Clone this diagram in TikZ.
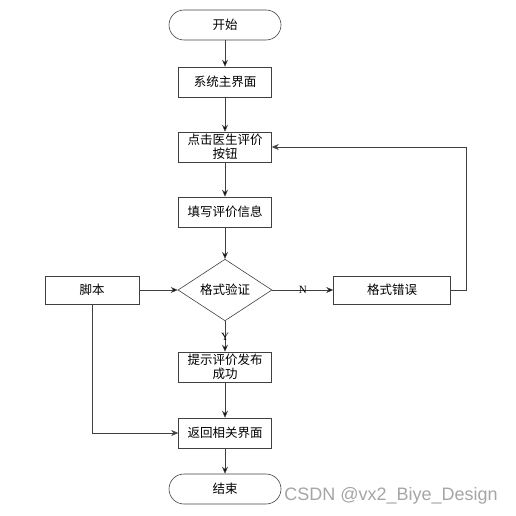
\documentclass[tikz,border=0pt]{standalone}
\usepackage{fontspec}
\usepackage{tikz}
\usetikzlibrary{arrows.meta,shapes}
\newfontfamily\cjk{Noto Sans CJK SC}
\newfontfamily\yn{Liberation Serif}
\newfontfamily\wmfont{Liberation Sans}
\definecolor{linegray}{RGB}{64,64,64}
\definecolor{markgray}{RGB}{165,165,165}

\begin{document}
\begin{tikzpicture}[x=1pt,y=1pt,->,>={Stealth[length=7pt,width=6pt]},semithick,font=\cjk\fontsize{12.5}{14}\selectfont]
 \tikzstyle{every node}=[inner sep=0pt]
 \tikzstyle{terminal}=[draw=linegray,rounded corners=15pt,minimum width=112pt,minimum height=30pt]
 \tikzstyle{box}=[draw=linegray,rectangle,minimum width=93pt,minimum height=30pt,align=center]
 \tikzstyle{check}=[draw=linegray,diamond,minimum width=94pt,minimum height=56pt]
 \tikzstyle{flow}=[draw=linegray]
 \tikzstyle{yesno}=[font=\yn\fontsize{11}{12}\selectfont]

   \useasboundingbox (0,0) rectangle (516,-516);

   \node[terminal] (start) at (225,-25) {开始};
   \node[box,node distance=57pt] (main) [below of = start] {系统主界面};
   \node[box,node distance=65pt] (btn) [below of = main] {点击医生评价\\按钮};
   \node[box,node distance=65pt] (fill) [below of = btn] {填写评价信息};
   \node[check,node distance=78pt] (verify) [below of = fill] {格式验证};
   \node[box,minimum width=94pt,minimum height=28pt,node distance=133pt] (script) [left of = verify] {脚本};
   \node[box,minimum width=117pt,minimum height=28pt,node distance=167pt] (err) [right of = verify] {格式错误};
   \node[box,node distance=77pt] (ok) [below of = verify] {提示评价发布\\成功};
   \node[box,node distance=66pt] (back) [below of = ok] {返回相关界面};
   \node[terminal,node distance=56pt] (stop) [below of = back] {结束};

   \path[flow]
   (start) edge (main)
   (main) edge (btn)
   (btn) edge (fill)
   (fill) edge (verify)
   (script) edge (verify)
   (verify) edge node[yesno] {N} (err)
   (verify) edge node[yesno] {Y} (ok)
   (ok) edge (back)
   (back) edge (stop);
   \draw[flow] (err.east) -- ++(15,0) |- (btn.east);
   \draw[flow] (script.south) |- (back.west);

   \node[anchor=west,text=markgray,font=\wmfont\fontsize{18}{20}\selectfont] (watermark) at (284,-496) {CSDN @vx2\_Biye\_Design};
\end{tikzpicture}
\end{document}
